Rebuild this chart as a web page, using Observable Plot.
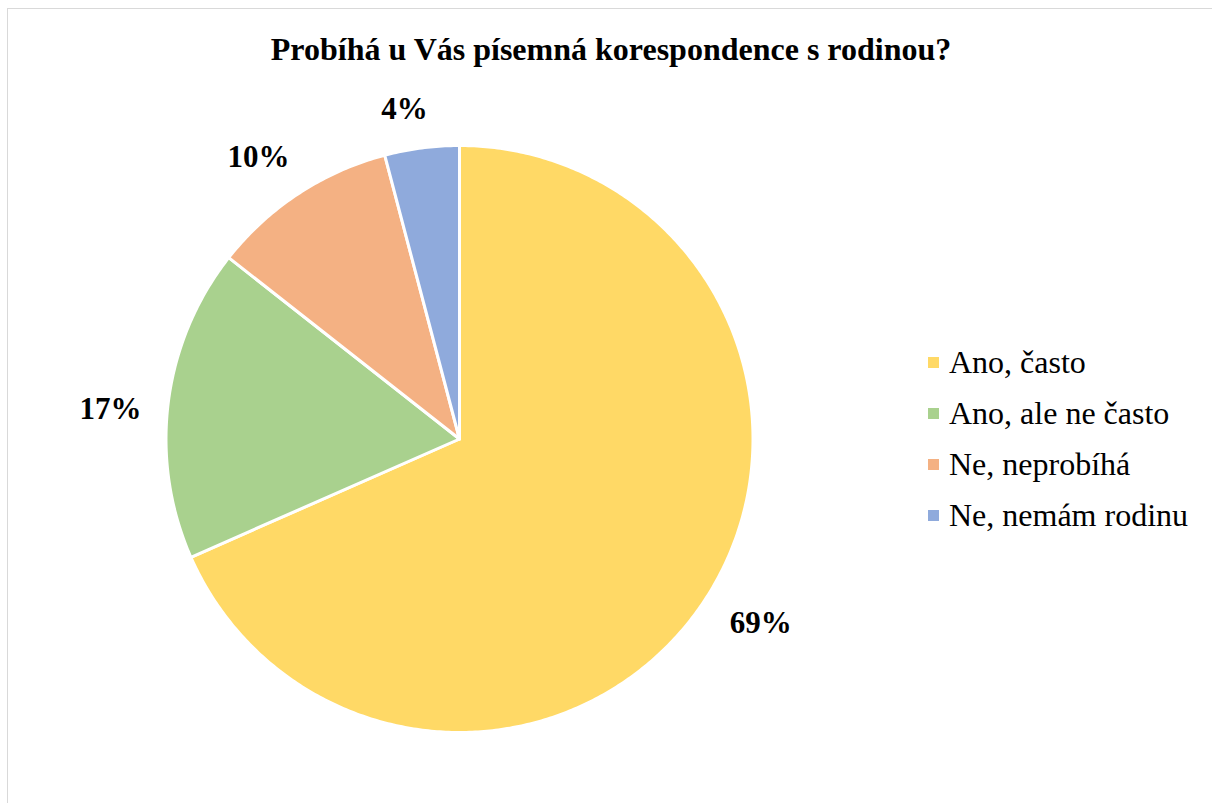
<!DOCTYPE html>
<html><head><meta charset="utf-8">
<script src="https://cdn.jsdelivr.net/npm/d3@7"></script>
<script src="https://cdn.jsdelivr.net/npm/@observablehq/plot@0.6"></script>
<style>
html,body{margin:0;background:#fff;font-family:"Liberation Serif","Times New Roman",serif;overflow:hidden;width:1212px;height:803px;}
#frame{position:absolute;left:7px;top:8px;width:1300px;height:900px;border:1px solid #d9d9d9;box-sizing:border-box;}
#title{position:absolute;left:0;top:31px;width:1222px;text-align:center;font-weight:bold;font-size:32px;color:#000;}
#chart{position:absolute;left:0;top:0;}
#legend{position:absolute;left:928px;top:337px;}
.item{display:flex;align-items:center;height:51px;font-size:32px;color:#000;white-space:nowrap;}
.sw{width:11px;height:11px;margin-right:10px;flex:none;}
</style>
</head><body>
<div id="frame"></div>
<div id="chart"></div>
<div id="title"></div>
<div id="legend"></div>
<script>
const title = "Probíhá u Vás písemná korespondence s rodinou?";
const categories = ["Ano, často", "Ano, ale ne často", "Ne, neprobíhá", "Ne, nemám rodinu"];
const values = [68.4, 17.2, 10.3, 4.1];
const labels = ["69%", "17%", "10%", "4%"];
const colors = ["#FFD966", "#A9D18E", "#F4B183", "#8FAADC"];

document.getElementById("title").textContent = title;

const W = 1212, H = 803;
const cx = 459, cy = 438.5, R = 293.5;

const arcs = d3.pie().sort(null).value(d => d.value)(categories.map((c, i) => ({cat: c, value: values[i], label: labels[i]})));

// polygon points for each slice (unit circle coords, angle clockwise from top)
const pts = [];
arcs.forEach(a => {
  const n = Math.max(4, Math.ceil((a.endAngle - a.startAngle) / 0.01));
  pts.push({cat: a.data.cat, x: 0, y: 0});
  for (let k = 0; k <= n; k++) {
    const t = a.startAngle + (a.endAngle - a.startAngle) * k / n;
    pts.push({cat: a.data.cat, x: Math.sin(t), y: Math.cos(t)});
  }
  pts.push({cat: a.data.cat, x: 0, y: 0});
});

const fs = 31;
const labelPts = arcs.map(a => {
  const m = (a.startAngle + a.endAngle) / 2 - 0.035;
  const dx = Math.sin(m), dy = Math.cos(m);
  const hw = a.data.label.length * 0.3 * fs, hh = 0.4 * fs;
  const d = (R + 28 + Math.abs(dx) * hw + Math.abs(dy) * hh) / R;
  return {x: dx * d, y: dy * d, label: a.data.label};
});

const plot = Plot.plot({
  width: W, height: H,
  marginLeft: cx - R, marginRight: W - (cx + R),
  marginTop: cy - R, marginBottom: H - (cy + R),
  x: {domain: [-1, 1], axis: null},
  y: {domain: [-1, 1], axis: null},
  color: {domain: categories, range: colors},
  style: {background: "transparent", overflow: "visible"},
  marks: [
    Plot.line(pts, {x: "x", y: "y", z: "cat", fill: "cat", stroke: "white", strokeWidth: 3, strokeLinejoin: "round", curve: "linear"}),
    Plot.text(labelPts, {x: "x", y: "y", text: "label", fontSize: fs, fontWeight: "bold", fill: "black", fontFamily: "Liberation Serif", dy: 2})
  ]
});
document.getElementById("chart").appendChild(plot);

const leg = document.getElementById("legend");
categories.forEach((c, i) => {
  const it = document.createElement("div");
  it.className = "item";
  const sw = document.createElement("span");
  sw.className = "sw";
  sw.style.background = colors[i];
  const tx = document.createElement("span");
  tx.textContent = c;
  it.appendChild(sw); it.appendChild(tx);
  leg.appendChild(it);
});
</script>
</body></html>
